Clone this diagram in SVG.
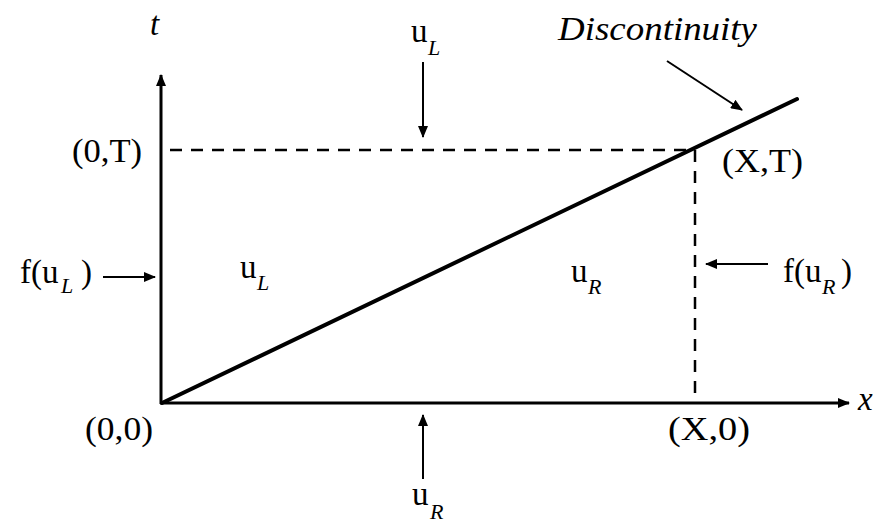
<svg xmlns="http://www.w3.org/2000/svg" width="885" height="526" viewBox="0 0 885 526">
<style>
.t{font-family:"Liberation Serif","Times New Roman",serif;font-size:33px;fill:#000}
.i{font-style:italic}
.s{font-family:"Liberation Serif","Times New Roman",serif;font-style:italic;font-size:22px}
.ax{stroke:#000;stroke-width:3;fill:none}
.ar{stroke:#000;stroke-width:2;fill:none}
.da{stroke:#000;stroke-width:2.5;stroke-dasharray:12 9;fill:none}
</style>
<defs>
<marker id="big" viewBox="0 0 12 10" refX="11" refY="5" markerWidth="12" markerHeight="10" markerUnits="userSpaceOnUse" orient="auto"><path d="M0,0L12,5L0,10z" fill="#000"/></marker>
<marker id="sm" viewBox="0 0 12 10" refX="11" refY="5" markerWidth="12" markerHeight="10" markerUnits="userSpaceOnUse" orient="auto"><path d="M0,0L12,5L0,10z" fill="#000"/></marker>
</defs>
<rect width="885" height="526" fill="#fff"/>
<g id="connectors">
<line class="ax" x1="161" y1="404" x2="161" y2="75" marker-end="url(#big)"/>
<line class="ax" x1="160" y1="403" x2="849" y2="403" marker-end="url(#big)"/>
<line class="da" x1="170" y1="150" x2="692" y2="150"/>
<line class="da" x1="695" y1="150" x2="695" y2="402"/>
<line stroke="#000" stroke-width="4" stroke-linecap="round" x1="162" y1="403" x2="797" y2="99"/>
<line class="ar" x1="667" y1="61" x2="742" y2="110" marker-end="url(#sm)"/>
<line class="ar" x1="423" y1="62" x2="423" y2="137" marker-end="url(#sm)"/>
<line class="ar" x1="103" y1="277" x2="155" y2="277" marker-end="url(#sm)"/>
<line class="ar" x1="768" y1="264" x2="706" y2="264" marker-end="url(#sm)"/>
<line class="ar" x1="423" y1="479" x2="423" y2="415" marker-end="url(#sm)"/>
</g>
<g id="label-t"><text class="t i" x="150" y="35" font-size="34">t</text></g>
<g id="label-x"><text class="t i" x="858" y="410">x</text></g>
<g id="label-discontinuity"><text class="t i" x="558" y="40" font-size="36" textLength="199" lengthAdjust="spacingAndGlyphs">Discontinuity</text></g>
<g id="label-uL-top"><text class="t" x="411" y="42">u<tspan class="s" x="428" y="55">L</tspan></text></g>
<g id="label-0T"><text class="t" x="72" y="162" textLength="70" lengthAdjust="spacingAndGlyphs">(0,T)</text></g>
<g id="label-XT"><text class="t" x="722" y="172" textLength="81" lengthAdjust="spacingAndGlyphs">(X,T)</text></g>
<g id="label-00"><text class="t" x="85" y="440" textLength="68" lengthAdjust="spacingAndGlyphs">(0,0)</text></g>
<g id="label-X0"><text class="t" x="668" y="440" textLength="82" lengthAdjust="spacingAndGlyphs">(X,0)</text></g>
<g id="label-fuL"><text class="t" x="20" y="283">f(u<tspan class="s" x="61" y="293">L</tspan><tspan x="81" y="283">)</tspan></text></g>
<g id="label-uL"><text class="t" x="240" y="278">u<tspan class="s" x="257" y="290">L</tspan></text></g>
<g id="label-uR"><text class="t" x="571" y="282">u<tspan class="s" x="588" y="294">R</tspan></text></g>
<g id="label-fuR"><text class="t" x="783" y="282">f(u<tspan class="s" x="822" y="294">R</tspan><tspan x="841" y="282">)</tspan></text></g>
<g id="label-uR-bottom"><text class="t" x="412" y="505">u<tspan class="s" x="430" y="519">R</tspan></text></g>
</svg>
